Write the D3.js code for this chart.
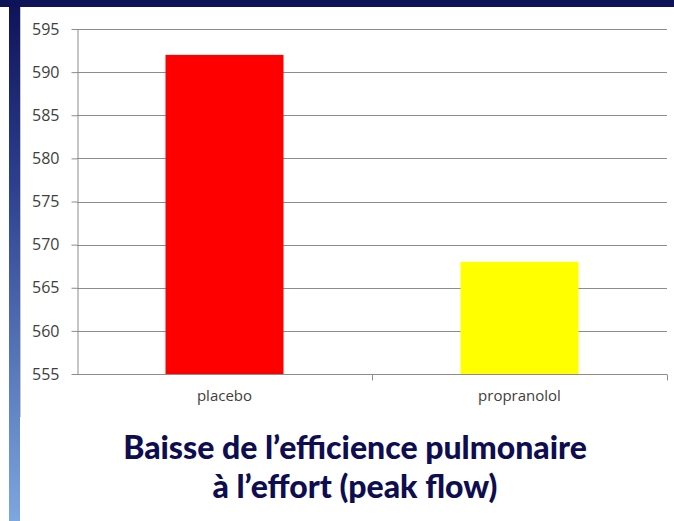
<!DOCTYPE html>
<html>
<head>
<meta charset="utf-8">
<script src="https://cdn.jsdelivr.net/npm/d3@7"></script>
<style>
  body { margin: 0; background: #fff; }
  svg { display: block; }
</style>
</head>
<body>
<svg id="chart" width="674" height="521"></svg>
<script>
var categories = ["placebo", "propranolol"];
var values = [592, 568];
var barColors = ["#ff0000", "#ffff00"];
var yTicks = [555, 560, 565, 570, 575, 580, 585, 590, 595];
var titleLines = ["Baisse de l\u2019efficience pulmonaire", "\u00e0 l\u2019effort (peak flow)"];

var svg = d3.select("#chart");

// frame: top band and left gradient bar
var defs = svg.append("defs");
var grad = defs.append("linearGradient")
  .attr("id", "sideGrad")
  .attr("x1", 0).attr("y1", 0).attr("x2", 0).attr("y2", 1);
grad.append("stop").attr("offset", "0%").attr("stop-color", "#0e1258");
grad.append("stop").attr("offset", "35%").attr("stop-color", "#2c3f8e");
grad.append("stop").attr("offset", "100%").attr("stop-color", "#7da7df");

svg.append("rect")
  .attr("x", 9).attr("y", 0).attr("width", 11).attr("height", 521)
  .attr("fill", "url(#sideGrad)");
svg.append("rect")
  .attr("x", 0).attr("y", 0).attr("width", 674).attr("height", 7)
  .attr("fill", "#0e1258");
svg.append("line")
  .attr("x1", 20.5).attr("y1", 7).attr("x2", 20.5).attr("y2", 417)
  .attr("stroke", "#c8c8c8").attr("stroke-width", 1);

var plotLeft = 77, plotRight = 667, plotTop = 29, plotBottom = 374;

var x = d3.scaleBand()
  .domain(categories)
  .range([plotLeft, plotRight])
  .paddingInner(0.6)
  .paddingOuter(0.3);

var y = d3.scaleLinear()
  .domain([555, 595])
  .range([plotBottom, plotTop]);

// gridlines
svg.append("g")
  .selectAll("line")
  .data(yTicks.slice(1))
  .join("line")
  .attr("x1", plotLeft).attr("x2", plotRight)
  .attr("y1", function(d) { return Math.round(y(d)) + 0.5; })
  .attr("y2", function(d) { return Math.round(y(d)) + 0.5; })
  .attr("stroke", "#8c8c8c")
  .attr("stroke-width", 1);

// bars
svg.append("g")
  .selectAll("rect")
  .data(values)
  .join("rect")
  .attr("x", function(d, i) { return x(categories[i]); })
  .attr("y", function(d) { return y(d); })
  .attr("width", x.bandwidth())
  .attr("height", function(d) { return plotBottom - y(d); })
  .attr("fill", function(d, i) { return barColors[i]; });

// y axis
var yAxis = svg.append("g")
  .attr("transform", "translate(" + (plotLeft + 0.5) + ",0)")
  .call(d3.axisLeft(y).tickValues(yTicks).tickSize(6).tickPadding(12).tickSizeOuter(0));
yAxis.select(".domain").attr("stroke", "#8c8c8c");
yAxis.selectAll(".tick line").attr("stroke", "#8c8c8c");
yAxis.selectAll(".tick text")
  .attr("fill", "#404040")
  .style("font-family", "'Open Sans', 'DejaVu Sans', sans-serif")
  .style("font-size", "16px");

// x axis (ticks between categories)
var xAxisG = svg.append("g")
  .attr("transform", "translate(0," + (plotBottom + 0.5) + ")");
xAxisG.append("line")
  .attr("x1", plotLeft).attr("x2", plotRight)
  .attr("stroke", "#8c8c8c");
var step = x.step();
xAxisG.selectAll("line.tk")
  .data([plotLeft + step * (0.3 + 1 - 0.6 / 2), plotRight])
  .join("line")
  .attr("class", "tk")
  .attr("x1", function(d) { return Math.round(d) + 0.5; })
  .attr("x2", function(d) { return Math.round(d) + 0.5; })
  .attr("y1", 0).attr("y2", 6)
  .attr("stroke", "#8c8c8c");
xAxisG.selectAll("text")
  .data(categories)
  .join("text")
  .attr("x", function(d) { return x(d) + x.bandwidth() / 2; })
  .attr("y", 26)
  .attr("text-anchor", "middle")
  .attr("fill", "#404040")
  .style("font-family", "'Open Sans', 'DejaVu Sans', sans-serif")
  .style("font-size", "15px")
  .text(function(d) { return d; });

// title
svg.append("g")
  .selectAll("text")
  .data(titleLines)
  .join("text")
  .attr("x", 355)
  .attr("y", function(d, i) { return 459 + i * 39; })
  .attr("text-anchor", "middle")
  .attr("fill", "#0d0d4f")
  .style("font-family", "Lato, 'Open Sans', sans-serif")
  .style("font-weight", "900")
  .style("font-size", "32px")
  .text(function(d) { return d; });
</script>
</body>
</html>
